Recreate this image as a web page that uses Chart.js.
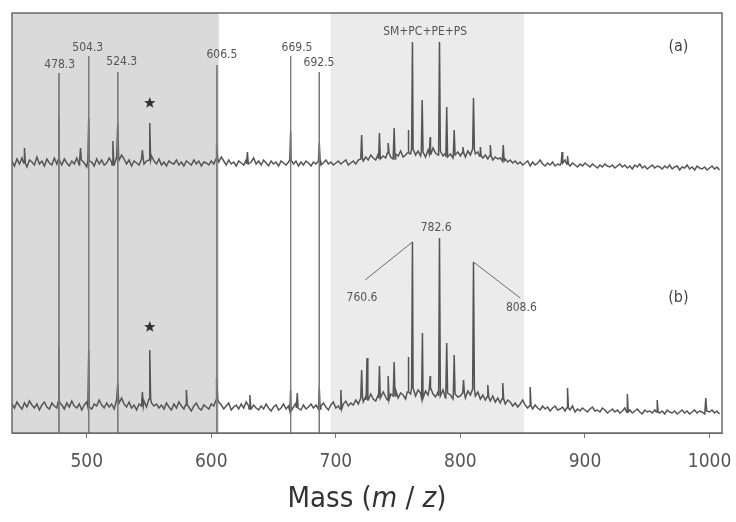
<!DOCTYPE html>
<html>
<head>
<meta charset="utf-8">
<script src="https://cdn.jsdelivr.net/npm/chart.js@4.4.1/dist/chart.umd.min.js"></script>
<style>
  html, body { margin: 0; padding: 0; background: #fff; }
  canvas { display: block; }
</style>
</head>
<body>
<canvas id="spectrum" width="736" height="522"></canvas>
<script>
// baseline noise, one value every 2 m/z starting at 440 (height above each trace's zero)
const noiseStart = 440;
const noiseStep = 2;

const noiseA = [
  2,-3,4,-1,5,0,-4,3,1,-2,6,-1,2,-3,4,0,-2,5,-1,3,
  -2,4,0,-3,2,-1,5,-2,3,0,-4,2,1,-3,4,-1,3,-2,0,5,
  1,-2,6,3,8,4,-1,3,-3,2,0,-2,4,-1,2,3,7,2,-1,4,
  -2,1,-3,2,0,-1,3,-2,1,-3,2,0,-2,3,-1,2,-3,1,0,-2,
  2,-1,4,1,6,2,-2,3,-1,1,-3,2,0,-2,3,-1,1,5,-1,2,
  -2,3,0,-3,2,-1,1,-3,2,0,-2,1,3,-1,2,-3,1,-2,2,0,
  -3,1,-1,2,-2,0,3,-1,1,-2,0,2,-1,1,3,-2,0,2,-1,3,
  4,2,6,3,8,5,3,9,4,7,5,10,6,4,9,7,12,6,8,10,
  9,14,8,12,7,11,6,13,9,15,10,8,12,7,10,6,9,5,8,11,
  7,10,6,12,8,14,9,11,7,5,8,4,7,3,6,4,5,2,4,1,
  3,0,2,-1,1,-2,0,2,-3,1,-2,0,3,-1,-3,0,-2,1,-3,-1,
  -2,0,3,-1,-3,0,-2,-4,-1,-3,0,-2,-4,-1,-3,-5,-2,-4,-1,-3,
  -4,-2,-5,-3,-1,-4,-2,-5,-3,-6,-2,-4,-1,-5,-3,-6,-4,-2,-5,-3,
  -4,-6,-3,-5,-2,-6,-4,-3,-7,-4,-5,-2,-6,-4,-7,-3,-5,-6,-4,-7,
  -5,-3,-6,-4,-7
];

const noiseB = [
  4,0,6,2,-1,5,1,7,3,0,4,-2,3,6,1,-1,5,2,0,6,
  3,-1,5,1,7,2,0,4,-2,3,6,1,-1,4,2,8,3,0,5,1,
  4,-1,8,5,10,4,1,6,0,3,-2,4,2,7,1,9,5,2,4,0,
  3,-1,5,1,-2,4,0,6,2,-1,3,1,-3,2,5,0,-2,3,1,-1,
  4,2,8,6,3,-1,2,5,-2,1,3,-1,4,0,6,2,-1,3,0,-2,
  2,-1,4,0,-3,1,3,-2,0,4,-1,2,-3,1,5,0,-2,3,-1,1,
  4,0,3,-1,2,5,1,-2,3,6,0,2,-1,4,7,2,5,3,8,4,
  10,6,12,8,14,9,7,13,10,16,11,8,14,12,18,10,15,13,9,16,
  14,20,12,18,15,10,17,13,19,14,11,16,12,18,10,15,13,9,14,11,
  12,15,10,17,13,19,12,16,9,13,8,11,7,12,6,10,5,9,4,8,
  6,2,5,1,4,8,3,0,2,-1,3,0,-2,2,-1,1,-3,0,2,-2,
  -1,1,-3,0,-2,2,-4,-1,-3,0,-2,-4,-1,1,-3,-2,-4,0,-2,-5,
  -3,-1,-4,-2,-5,-3,0,-4,-2,-5,-3,-1,-4,-6,-2,-4,-3,-5,-2,-4,
  -5,-3,-6,-2,-4,-5,-3,-6,-4,-2,-5,-3,-6,-4,-2,-5,-3,-4,-6,-3,
  -4,-2,-5,-3,-6
];

// peaks of spectrum (a)
const peaksAMass = [450, 477.7, 495, 501.6, 521, 524.9, 544.7, 550.6, 604.5, 629,
  663.7, 686.7, 720.7, 735, 742, 746.8, 758, 761.5, 769.3, 775.7,
  783.2, 789, 795, 802, 810.5, 816, 824, 834.4, 881.6, 886];
const peaksAHeight = [15, 45, 15, 45, 22, 40, 13, 40, 18, 11,
  32, 20, 28, 30, 20, 35, 33, 121, 63, 26,
  121, 56, 33, 16, 65, 16, 18, 18, 11, 7];

// peaks of spectrum (b)
const peaksBMass = [477.7, 501.6, 524.9, 544.7, 550.6, 580, 604.5, 631, 663.7, 669,
  686.7, 704, 720.7, 725, 735, 742, 746.8, 758, 761.5, 769.5,
  775.7, 783.2, 789, 795, 802.5, 810.5, 822, 834, 856, 886,
  934, 958, 997];
const peaksBHeight = [61, 58, 25, 16, 58, 18, 30, 13, 18, 15,
  20, 18, 38, 50, 42, 32, 46, 51, 166, 75,
  32, 170, 65, 53, 28, 146, 23, 25, 21, 20,
  14, 8, 10];

// vertical offsets of the two stacked traces
const offsetA = 270;
const offsetB = 25;

// marker lines running through both spectra
const guideMass = [477.7, 501.6, 524.9, 604.5, 663.7, 686.7];
const guideTop = [360, 377, 361, 368, 377, 361];

const tickValues = [500, 600, 700, 800, 900, 1000];

const peakLabels = ["478.3", "504.3", "524.3", "606.5", "669.5", "692.5", "SM+PC+PE+PS", "760.6", "782.6", "808.6"];

// where the annotations sit, in (m/z, level) units
const labelSpots = [
  [478.3, 368], [500.8, 385], [528.1, 371], [608.5, 378], [668.8, 385], [686.5, 370],
  [771.7, 401], [721, 135], [780.5, 205], [848.9, 125]
];
const panelTags = [["(a)", 975, 386], ["(b)", 975, 135]];
const starSpots = [[550.6, 330], [550.6, 106]];
const leaders = [
  [[723.5, 153], [761.5, 191]],
  [[810.5, 171], [848, 135]]
];
const shaded = [[440, 606, "#dadada"], [696, 851, "#ebebeb"]];

const narrowFont = "'DejaVu Sans Condensed', 'Liberation Sans', Arial, sans-serif";

function buildTrace(noise, peakMass, peakHeight, offset) {
  const pts = noise.map((v, i) => ({ x: noiseStart + i * noiseStep, y: offset + v }));
  peakMass.forEach((m, k) => {
    const i = Math.min(Math.max(Math.round((m - noiseStart) / noiseStep), 0), noise.length - 1);
    const base = offset + noise[i];
    pts.push({ x: m - 0.7, y: base }, { x: m, y: offset + peakHeight[k] }, { x: m + 0.7, y: base });
  });
  return pts.sort((p, q) => p.x - q.x);
}

const guidePoints = [];
guideMass.forEach((m, k) => {
  guidePoints.push({ x: m, y: guideTop[k] }, { x: m, y: 0 }, { x: m, y: null });
});
const leaderPoints = [];
leaders.forEach(l => {
  leaderPoints.push({ x: l[0][0], y: l[0][1] }, { x: l[1][0], y: l[1][1] }, { x: l[1][0], y: null });
});

const overlay = {
  id: "overlay",
  beforeDatasetsDraw(chart) {
    const { ctx, chartArea, scales } = chart;
    ctx.save();
    shaded.forEach(([a, b, c]) => {
      const x0 = Math.max(scales.x.getPixelForValue(a), chartArea.left);
      const x1 = scales.x.getPixelForValue(b);
      ctx.fillStyle = c;
      ctx.fillRect(x0, chartArea.top, x1 - x0, chartArea.bottom - chartArea.top);
    });
    ctx.restore();
  },
  afterDatasetsDraw(chart) {
    const { ctx, chartArea, scales } = chart;
    ctx.save();
    ctx.fillStyle = "#555";
    ctx.textAlign = "center";
    ctx.textBaseline = "middle";
    ctx.font = "12px " + narrowFont;
    peakLabels.forEach((t, i) => {
      ctx.fillText(t, scales.x.getPixelForValue(labelSpots[i][0]), scales.y.getPixelForValue(labelSpots[i][1]));
    });
    ctx.font = "16px " + narrowFont;
    ctx.fillStyle = "#444";
    panelTags.forEach(([t, m, l]) => {
      ctx.fillText(t, scales.x.getPixelForValue(m), scales.y.getPixelForValue(l));
    });
    ctx.fillStyle = "#333";
    starSpots.forEach(([m, l]) => {
      const cx = scales.x.getPixelForValue(m);
      const cy = scales.y.getPixelForValue(l);
      ctx.beginPath();
      for (let k = 0; k < 10; k++) {
        const r = k % 2 === 0 ? 6 : 2.5;
        const a = -Math.PI / 2 + k * Math.PI / 5;
        ctx.lineTo(cx + r * Math.cos(a), cy + r * Math.sin(a));
      }
      ctx.closePath();
      ctx.fill();
    });
    ctx.strokeStyle = "#6a6a6a";
    ctx.lineWidth = 1.5;
    ctx.strokeRect(chartArea.left, chartArea.top, chartArea.right - chartArea.left, chartArea.bottom - chartArea.top);
    ctx.restore();
  },
  afterDraw(chart) {
    const { ctx, chartArea } = chart;
    const parts = [["Mass (", "normal"], ["m", "italic"], [" / ", "normal"], ["z", "italic"], [")", "normal"]];
    ctx.save();
    ctx.fillStyle = "#333";
    ctx.textBaseline = "middle";
    let total = 0;
    parts.forEach(([t, s]) => { ctx.font = s + " 29px " + narrowFont; total += ctx.measureText(t).width; });
    let x = (chartArea.left + chartArea.right) / 2 - total / 2;
    parts.forEach(([t, s]) => {
      ctx.font = s + " 29px " + narrowFont;
      ctx.fillText(t, x, 499);
      x += ctx.measureText(t).width;
    });
    ctx.restore();
  }
};

new Chart(document.getElementById("spectrum"), {
  type: "line",
  data: {
    datasets: [
      {
        label: "guides",
        data: guidePoints,
        borderColor: "#7a7a7a",
        borderWidth: 1,
        spanGaps: false,
      },
      {
        label: "leaders",
        data: leaderPoints,
        borderColor: "#6a6a6a",
        borderWidth: 1,
        spanGaps: false,
      },
      {
        label: "(a)",
        data: buildTrace(noiseA, peaksAMass, peaksAHeight, offsetA),
        borderColor: "#555",
        borderWidth: 1.5,
      },
      {
        label: "(b)",
        data: buildTrace(noiseB, peaksBMass, peaksBHeight, offsetB),
        borderColor: "#555",
        borderWidth: 1.5,
      },
    ],
  },
  options: {
    responsive: false,
    animation: false,
    devicePixelRatio: 1,
    layout: { padding: { left: 12, right: 14, top: 13, bottom: 0 } },
    elements: { point: { radius: 0 }, line: { tension: 0 } },
    plugins: { legend: { display: false }, tooltip: { enabled: false } },
    scales: {
      x: {
        type: "linear",
        min: 440,
        max: 1010,
        grid: { display: true, drawOnChartArea: false, drawTicks: true, tickLength: 5, color: "#777" },
        border: { display: true, color: "#6a6a6a" },
        ticks: {
          color: "#555",
          font: { size: 19, family: narrowFont },
          padding: 13,
          autoSkip: false,
          maxRotation: 0,
          callback: (v) => String(v),
        },
        afterBuildTicks: (scale) => { scale.ticks = tickValues.map(v => ({ value: v })); },
        afterFit: (scale) => {
          scale.height = 89;
          scale.paddingLeft = 0;
          scale.paddingRight = 0;
        },
      },
      y: { display: false, min: 0, max: 420 },
    },
  },
  plugins: [overlay],
});
</script>
</body>
</html>
